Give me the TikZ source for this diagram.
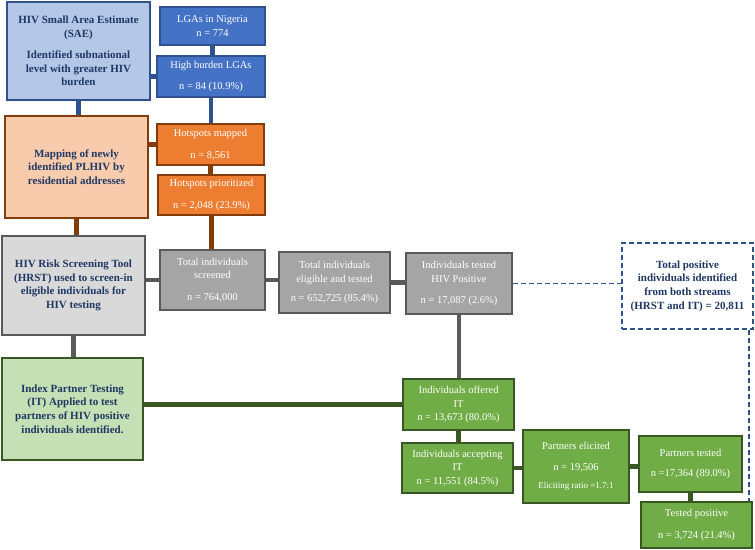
\documentclass[tikz,border=0pt]{standalone}
\usepackage{fontspec}
\setmainfont{Liberation Serif}
\usetikzlibrary{positioning}
\definecolor{navy}{HTML}{1F3864}
\definecolor{bluedk}{HTML}{2F528F}
\definecolor{bluemd}{HTML}{4472C4}
\definecolor{bluelt}{HTML}{B4C7E7}
\definecolor{brown}{HTML}{843C0C}
\definecolor{orangemd}{HTML}{ED7D31}
\definecolor{orangelt}{HTML}{F8CBAD}
\definecolor{graydk}{HTML}{595959}
\definecolor{graymd}{HTML}{A5A5A5}
\definecolor{graylt}{HTML}{D9D9D9}
\definecolor{greendk}{HTML}{385723}
\definecolor{greenmd}{HTML}{70AD47}
\definecolor{greenlt}{HTML}{C5E0B4}

\begin{document}
\begin{tikzpicture}[
    x=1pt, y=-1pt,
    font=\fontsize{10.5}{13.5}\selectfont,
    sz/.style 2 args={minimum width=#1pt, minimum height=#2pt},
    box/.style ={draw, line width=1.8pt, align=center, inner sep=1pt, text=white},
    lead/.style={box, text=navy, font=\fontsize{11}{13.6}\selectfont\bfseries},
    saebox/.style ={lead, fill=bluelt,   draw=bluedk},
    lgabox/.style ={box,  fill=bluemd,   draw=bluedk},
    mapbox/.style ={lead, fill=orangelt, draw=brown},
    hotbox/.style ={box,  fill=orangemd, draw=brown},
    hrstbox/.style={lead, fill=graylt,   draw=graydk},
    scrbox/.style ={box,  fill=graymd,   draw=graydk},
    itbox/.style  ={lead, fill=greenlt,  draw=greendk},
    stepbox/.style={box,  fill=greenmd,  draw=greendk},
    totbox/.style ={lead, fill=white, draw=bluedk,
                    dash pattern=on 5pt off 3pt, line width=1.6pt},
    link/.style={line width=4.5pt},
    bluelink/.style={link, bluedk},
    brownlink/.style={link, brown},
    graylink/.style={link, graydk},
    greenlink/.style={link, greendk},
    dashlink/.style={bluedk, dash pattern=on 5pt off 3pt, line width=1.6pt}
  ]
  \useasboundingbox (0,0) rectangle (755,549);

  % ---- row 1: SAE ------------------------------------------------------
  \node[saebox, sz={143}{98}] (sae) at (78.5,51)
        {HIV Small Area Estimate\\(SAE)\\[8pt]Identified subnational\\level with greater HIV\\burden};
  \node[lgabox, sz={105}{38}] (lga) at (212.5,26) {LGAs in Nigeria\\n = 774};
  \node[lgabox, sz={108}{41}] (hb)  at (211,76.5) {High burden LGAs\\[8pt]n = 84 (10.9\%)};

  % ---- row 2: mapping --------------------------------------------------
  \node[mapbox, sz={143}{102}] (map) at (76.5,167)
        {Mapping of newly\\identified PLHIV by\\residential addresses};
  \node[hotbox, sz={107}{41}] (hsm) at (210.5,144.5) {Hotspots mapped\\[8pt]n = 8,561};
  \node[hotbox, sz={107}{40}] (hsp) at (211.5,195) {Hotspots prioritized\\[8pt]n = 2,048 (23.9\%)};

  % ---- row 3: HRST -----------------------------------------------------
  \node[hrstbox, sz={143}{99}] (hrst) at (73.5,285.5)
        {HIV Risk Screening Tool\\(HRST) used to screen-in\\eligible individuals for\\HIV testing};
  \node[scrbox, sz={105}{60}] (scr)  at (212.5,280)
        {Total individuals\\screened\\[8pt]n = 764,000};
  \node[scrbox, sz={111}{61}] (elig) at (334.5,282.5)
        {Total individuals\\eligible and tested\\[6pt]n = 652,725 (85.4\%)};
  \node[scrbox, sz={106}{61}] (pos)  at (459,283.5)
        {Individuals tested\\HIV Positive\\[8pt]n = 17,087 (2.6\%)};
  \node[totbox, sz={131}{86}] (tot)  at (687.5,286)
        {Total positive\\individuals identified\\from both streams\\(HRST and IT) = 20,811};

  % ---- row 4: index testing --------------------------------------------
  \node[itbox, sz={141}{102}] (it) at (72.5,409)
        {Index Partner Testing\\(IT) Applied to test\\partners of HIV positive\\individuals identified.};
  \node[stepbox, sz={111}{51}] (off) at (458.5,404.5)
        {Individuals offered\\IT\\n = 13,673 (80.0\%)};
  \node[stepbox, sz={111}{50}] (acc) at (457.5,468)
        {Individuals accepting\\IT\\n = 11,551 (84.5\%)};
  \node[stepbox, sz={106}{73}] (eli) at (576,466.5)
        {Partners elicited\\[7pt]n = 19,506\\[5pt]{\fontsize{9}{11}\selectfont Eliciting ratio =1.7:1}};
  \node[stepbox, sz={103}{56}] (pt)  at (690.5,464)
        {Partners tested\\[7pt]n =17,364 (89.0\%)};
  \node[stepbox, sz={111}{46}] (tp)  at (696.5,525)
        {Tested positive\\[8pt]n = 3,724 (21.4\%)};

  % ---- blue links ------------------------------------------------------
  \draw[bluelink] (hb.west) -- (hb.west -| sae.east);
  \draw[bluelink] (lga.south) -- (lga.south |- hb.north);
  \draw[bluelink] (hb.south) -- (hb.south |- hsm.north);
  \draw[bluelink] (sae.south) -- (sae.south |- map.north);

  % ---- brown links -----------------------------------------------------
  \draw[brownlink] (hsm.west) -- (hsm.west -| map.east);
  \draw[brownlink] (hsm.south) -- (hsm.south |- hsp.north);
  \draw[brownlink] (hsp.south) -- (hsp.south |- scr.north);
  \draw[brownlink] (map.south) -- (map.south |- hrst.north);

  % ---- gray links ------------------------------------------------------
  \draw[graylink] (scr.west) -- (scr.west -| hrst.east);
  \draw[graylink] (scr.east) -- (scr.east -| elig.west);
  \draw[graylink] (elig.east) -- (elig.east -| pos.west);
  \draw[graylink] (hrst.south) -- (hrst.south |- it.north);
  \draw[graylink] (pos.south) -- (pos.south |- off.north);

  % ---- green links -----------------------------------------------------
  \draw[greenlink] (off.west) -- (off.west -| it.east);
  \draw[greenlink] (off.south) -- (off.south |- acc.north);
  \draw[greenlink] (acc.east) -- (acc.east -| eli.west);
  \draw[greenlink] (eli.east) -- (eli.east -| pt.west);
  \draw[greenlink] (pt.south) -- (pt.south |- tp.north);

  % ---- dashed totals ---------------------------------------------------
  \draw[dashlink] (pos.east) -- (pos.east -| tot.west);
  \draw[dashlink] ([xshift=-5pt]tot.south east) -- ([xshift=-5pt]tot.south east |- tp.north);
\end{tikzpicture}
\end{document}
